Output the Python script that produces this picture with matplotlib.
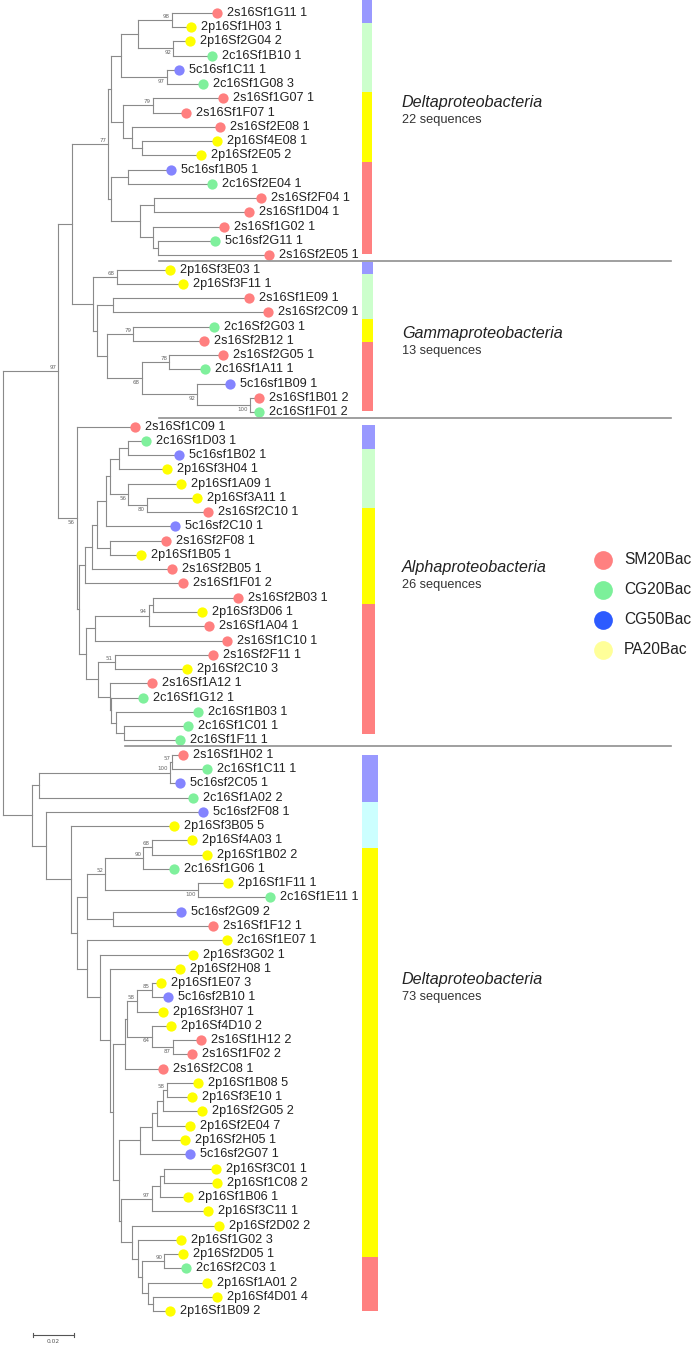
import matplotlib
matplotlib.use("Agg")
import matplotlib.pyplot as plt
from matplotlib.collections import LineCollection
from matplotlib.patches import Rectangle

# ---- data: leaves of the tree, top to bottom ----
leaf_names = [
    "2s16Sf1G11", "2p16Sf1H03", "2p16Sf2G04", "2c16Sf1B10", "5c16sf1C11", "2c16Sf1G08",
    "2s16Sf1G07", "2s16Sf1F07", "2s16Sf2E08", "2p16Sf4E08", "2p16Sf2E05", "5c16sf1B05",
    "2c16Sf2E04", "2s16Sf2F04", "2s16Sf1D04", "2s16Sf1G02", "5c16sf2G11", "2s16Sf2E05",
    "2p16Sf3E03", "2p16Sf3F11", "2s16Sf1E09", "2s16Sf2C09", "2c16Sf2G03", "2s16Sf2B12",
    "2s16Sf2G05", "2c16Sf1A11", "5c16sf1B09", "2s16Sf1B01", "2c16Sf1F01",
    "2s16Sf1C09", "2c16Sf1D03", "5c16sf1B02", "2p16Sf3H04", "2p16Sf1A09", "2p16Sf3A11",
    "2s16Sf2C10", "5c16sf2C10", "2s16Sf2F08", "2p16Sf1B05", "2s16Sf2B05", "2s16Sf1F01",
    "2s16Sf2B03", "2p16Sf3D06", "2s16Sf1A04", "2s16Sf1C10", "2s16Sf2F11", "2p16Sf2C10",
    "2s16Sf1A12", "2c16Sf1G12", "2c16Sf1B03", "2c16Sf1C01", "2c16Sf1F11",
    "2s16Sf1H02", "2c16Sf1C11", "5c16sf2C05", "2c16Sf1A02", "5c16sf2F08", "2p16Sf3B05",
    "2p16Sf4A03", "2p16Sf1B02", "2c16Sf1G06", "2p16Sf1F11", "2c16Sf1E11", "5c16sf2G09",
    "2s16Sf1F12", "2c16Sf1E07", "2p16Sf3G02", "2p16Sf2H08", "2p16Sf1E07", "5c16sf2B10",
    "2p16Sf3H07", "2p16Sf4D10", "2s16Sf1H12", "2s16Sf1F02", "2s16Sf2C08", "2p16Sf1B08",
    "2p16Sf3E10", "2p16Sf2G05", "2p16Sf2E04", "2p16Sf2H05", "5c16sf2G07", "2p16Sf3C01",
    "2p16Sf1C08", "2p16Sf1B06", "2p16Sf3C11", "2p16Sf2D02", "2p16Sf1G02", "2p16Sf2D05",
    "2c16Sf2C03", "2p16Sf1A01", "2p16Sf4D01", "2p16Sf1B09",
]
leaf_counts = [
    1, 1, 2, 1, 1, 3, 1, 1, 1, 1, 2, 1, 1, 1, 1, 1, 1, 1,
    1, 1, 1, 1, 1, 1, 1, 1, 1, 2, 2,
    1, 1, 1, 1, 1, 1, 1, 1, 1, 1, 1, 2, 1, 1, 1, 1, 1, 3, 1, 1, 1, 1, 1,
    1, 1, 1, 2, 1, 5, 1, 2, 1, 1, 1, 2, 1, 1, 1, 1, 3, 1, 1, 2, 2, 2, 1, 5,
    1, 2, 7, 1, 1, 1, 2, 1, 1, 2, 3, 1, 1, 2, 4, 2,
]
# sample of origin: S = SM20Bac, G = CG20Bac, B = CG50Bac, P = PA20Bac
leaf_source = list(
    "SPPGBGSSSPPBGSSSGS"
    "PPSSGSSGBSG"
    "SGBPPPSBSPSSSPSSSPSGGGG"
    "SGBGBPPPGPGBSPPPPBPPSSSPPPPPBPPPPPPPGPPP"
)
# distance from root to each tip (substitutions per site)
tip_dist = [
    0.1027, 0.0899, 0.0896, 0.1002, 0.0843, 0.0958, 0.1059, 0.0876, 0.1043, 0.1030,
    0.0951, 0.0801, 0.1005, 0.1243, 0.1187, 0.1063, 0.1019, 0.1286,
    0.0798, 0.0860, 0.1187, 0.1278, 0.1015, 0.0965, 0.1057, 0.0968, 0.1092, 0.1233, 0.1236,
    0.0626, 0.0678, 0.0842, 0.0781, 0.0851, 0.0929, 0.0983, 0.0822, 0.0776, 0.0654,
    0.0809, 0.0863, 0.1130, 0.0953, 0.0989, 0.1076, 0.1010, 0.0880, 0.0708, 0.0666,
    0.0937, 0.0887, 0.0847,
    0.0860, 0.0978, 0.0847, 0.0909, 0.0958, 0.0817, 0.0907, 0.0978, 0.0817, 0.1084,
    0.1289, 0.0850, 0.1007, 0.1079, 0.0912, 0.0847, 0.0752, 0.0789, 0.0765, 0.0801,
    0.0950, 0.0904, 0.0765, 0.0937, 0.0904, 0.0953, 0.0896, 0.0871, 0.0896, 0.1022,
    0.1027, 0.0885, 0.0986, 0.1038, 0.0851, 0.0863, 0.0875, 0.0978, 0.1027, 0.0798,
]


def n(depth, *kids, s=None):
    # internal node: depth from root, bootstrap support, children
    return (depth, s, kids)


# ---- tree topology (leaf = index into the lists above) ----
delta_a = n(0.0519,
            n(0.0531,
              n(0.0580,
                n(0.0666, n(0.0830, 0, 1, s=98), n(0.0838, 2, 3, s=92)),
                n(0.0806, 4, 5, s=97)),
              n(0.0590,
                n(0.0737, 6, 7, s=79),
                n(0.0637, 8, n(0.0683, 9, 10)))),
            n(0.0531,
              n(0.0617, 11, 12),
              n(0.0675, n(0.0743, 13, 14), n(0.0737, 15, n(0.0762, 16, 17)))),
            s=77)

gamma = n(0.0445,
          n(0.0560, 18, 19, s=68),
          n(0.0462,
            n(0.0543, 20, 21),
            n(0.0514,
              n(0.0642, 22, 23, s=79),
              n(0.0683,
                n(0.0819, 24, 25, s=78),
                n(0.0956, 26, n(0.1215, 27, 28, s=100), s=92),
                s=68))))

alpha = n(0.0364, 29,
          n(0.0376,
            n(0.0404,
              n(0.0437,
                n(0.0462,
                  n(0.0508,
                    n(0.0527,
                      n(0.0571, n(0.0614, 30, 31), 32),
                      n(0.0617, 33, n(0.0708, 34, 35, s=80), s=56)),
                    36),
                  n(0.0527, 37, 38)),
                39),
              40),
            n(0.0409,
              n(0.0454, n(0.0719, n(0.0737, 41, 42), 43, s=94), 44),
              n(0.0470,
                n(0.0552, 45, 46, s=51),
                n(0.0527, 47, n(0.0532, 48, n(0.0557, 49, n(0.0596, 50, 51))))))),
          s=56)

delta_b = n(0.0145,
            n(0.0180, n(0.0822, n(0.0833, 52, 53, s=57), 54, s=100), 55),
            n(0.0211, 56,
              n(0.0334, 57,
                n(0.0367,
                  n(0.0413,
                    n(0.0503,
                      n(0.0691, n(0.0733, 58, 59, s=68), 60, s=90),
                      n(0.0961, 61, 62, s=100), s=52),
                    n(0.0543, 63, 64)),
                  n(0.0413, 65,
                    n(0.0478, 66,
                      n(0.0527, 67,
                        n(0.0541,
                          n(0.0601,
                            n(0.0613,
                              n(0.0658, n(0.0733, 68, 69, s=85), 70, s=58),
                              n(0.0733, 71, n(0.0835, 72, 73, s=87), s=64)),
                            74),
                          n(0.0573,
                            n(0.0675,
                              n(0.0733,
                                n(0.0757, n(0.0786, n(0.0806, 75, 76, s=58), 77), 78),
                                79),
                              80),
                            n(0.0580,
                              n(0.0733, n(0.0773, n(0.0794, 81, 82), 83), 84, s=97),
                              n(0.0637, 85,
                                n(0.0666, 86,
                                  n(0.0683,
                                    n(0.0794, 87, 88, s=90),
                                    n(0.0713, 89, n(0.0740, 90, 91)))))))))))))))

tree = n(0.0, n(0.0273, n(0.0339, delta_a, gamma), alpha, s=97), delta_b)

# ---- clade annotation ----
group_names = ["Deltaproteobacteria", "Gammaproteobacteria", "Alphaproteobacteria", "Deltaproteobacteria"]
group_sequences = [22, 13, 26, 73]
group_first = [0, 18, 29, 52]
group_last = [17, 28, 51, 91]

source_order = ["B", "G", "P", "S"]
legend_labels = ["SM20Bac", "CG20Bac", "CG50Bac", "PA20Bac"]
legend_keys = ["S", "G", "B", "P"]

# ---- style ----
dot_colors = {"S": "#ff7f7f", "G": "#7ff09c", "B": "#8484ff", "P": "#ffff00"}
bar_colors = {"S": "#ff8080", "G": "#ccffcc", "B": "#9999ff", "P": "#ffff00"}
bar_green_override = {3: "#ccffff"}
legend_colors = {"S": "#ff8080", "G": "#7cf09a", "B": "#2d5bff", "P": "#ffff99"}
LINE = "#8a8a8a"
support_below = {(2, 3), (4, 5), (24, 28), (26, 28), (27, 28), (29, 51), (33, 35),
                 (34, 35), (61, 62), (71, 73), (72, 73)}

# pixel layout of the picture
PX_PER_UNIT = 2035.0
X0_PX = 2.7
ROW_PX = 14.27
Y0_PX = 12.7
W_PX, H_PX = 695, 1345


def px_x(p):
    return (p - X0_PX) / PX_PER_UNIT


def px_y(p):
    return (p - Y0_PX) / ROW_PX


fig = plt.figure(figsize=(W_PX / 100, H_PX / 100), dpi=100)
ax = fig.add_axes([0, 0, 1, 1])
ax.set_xlim(px_x(0), px_x(W_PX))
ax.set_ylim(px_y(H_PX), px_y(0))
ax.axis("off")

FONT = "Liberation Sans"
segs = []
supports = []


def leaves_of(node):
    if isinstance(node, int):
        return [node]
    out = []
    for k in node[2]:
        out += leaves_of(k)
    return out


def draw(node):
    if isinstance(node, int):
        return float(node)
    depth, s, kids = node
    ys = []
    for k in kids:
        y = draw(k)
        x_end = tip_dist[k] if isinstance(k, int) else k[0]
        segs.append([(depth, y), (x_end, y)])
        ys.append(y)
    segs.append([(depth, ys[0]), (depth, ys[-1])])
    yc = (ys[0] + ys[-1]) / 2
    if s is not None:
        lv = leaves_of(node)
        supports.append((depth, yc, s, (lv[0], lv[-1]) in support_below))
    return yc


root_y = draw(tree)
ax.add_collection(LineCollection(segs, colors=LINE, linewidths=0.8, capstyle="projecting"))

for depth, yc, s, below in supports:
    if below:
        ax.text(depth - px_x(X0_PX + 2), yc + 0.12, str(s), ha="right", va="top",
                fontsize=4, color="#666666", family="DejaVu Sans")
    else:
        ax.text(depth - px_x(X0_PX + 2), yc - 0.08, str(s), ha="right", va="bottom",
                fontsize=4, color="#666666", family="DejaVu Sans")

# tips: dots and labels
dot_gap = 5 / PX_PER_UNIT
for i, name in enumerate(leaf_names):
    xd = tip_dist[i] + dot_gap
    ax.plot(xd, i, "o", ms=7.4, mec="none", mfc=dot_colors[leaf_source[i]])
    ax.text(xd + 10 / PX_PER_UNIT, i, f"{name} {leaf_counts[i]}", va="center", ha="left",
            fontsize=9.1, family=FONT, color="#222222")

# composition bars, separators and clade labels
bar_x = px_x(361.7)
bar_widths_px = [10.7, 11.7, 13.3, 16.0]
bar_pad_top = [0.9, 0.5, 0.1, -0.05]
bar_pad_bottom = [-0.06, -0.11, -0.43, 0.0]
name_y_px = [102.7, 334.0, 567.9, 980.0]
count_y_px = [119.6, 351.3, 584.8, 997.0]
sep_start_px = [159.0, 159.0, 125.0]

for g in range(4):
    members = range(group_first[g], group_last[g] + 1)
    totals = {k: 0 for k in source_order}
    for i in members:
        totals[leaf_source[i]] += leaf_counts[i]
    top = group_first[g] - bar_pad_top[g]
    bottom = group_last[g] + bar_pad_bottom[g]
    total = sum(totals.values())
    y = top
    for k in source_order:
        h = (bottom - top) * totals[k] / total
        c = bar_colors[k]
        if k == "G" and g in bar_green_override:
            c = bar_green_override[g]
        ax.add_patch(Rectangle((bar_x, y), bar_widths_px[g] / PX_PER_UNIT, h,
                               facecolor=c, edgecolor="none"))
        y += h
    ax.text(px_x(402), px_y(name_y_px[g]), group_names[g], style="italic",
            fontsize=11.6, family=FONT, va="center", ha="left", color="#222222")
    ax.text(px_x(402), px_y(count_y_px[g]), f"{group_sequences[g]} sequences",
            fontsize=9.2, family=FONT, va="center", ha="left", color="#333333")
    if g < 3:
        ys = group_last[g] + 0.41
        ax.plot([px_x(sep_start_px[g]), px_x(671)], [ys, ys], color="#8f8f8f", lw=1.2)

# legend
for j, (lab, key) in enumerate(zip(legend_labels, legend_keys)):
    yl = px_y(560 + 30 * j)
    ax.plot(px_x(603), yl, "o", ms=13.5, mec="none", mfc=legend_colors[key])
    ax.text(px_x(624), yl, lab, fontsize=11.2, family=FONT, va="center", ha="left",
            color="#222222")

# scale bar
sx = px_x(33.3)
sy = px_y(1335)
ax.plot([sx, sx + 0.02], [sy, sy], color="#555555", lw=0.8)
for xe in (sx, sx + 0.02):
    ax.plot([xe, xe], [sy - 0.15, sy + 0.15], color="#555555", lw=0.8)
ax.text(sx + 0.01, sy + 0.45, "0.02", ha="center", va="center", fontsize=4.2,
        color="#555555", family="DejaVu Sans")

fig.savefig("out.png", dpi=100)
